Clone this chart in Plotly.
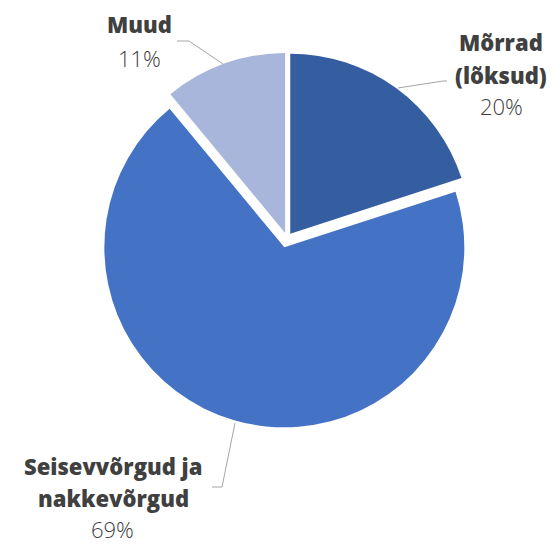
import plotly.graph_objects as go

labels = ["Mõrrad (lõksud)", "Seisevvõrgud ja nakkevõrgud", "Muud"]
values = [20, 69, 11]
colors = ["#355EA0", "#4472C4", "#A9B6DB"]
pulls = [0.031, 0.053, 0.031]

W, H = 558, 545


def px(x):
    return x / W


def py(y):
    return 1 - y / H


cx, cy, r = 287.0, 238.2, 180.0
half = r * (1 + max(pulls))

fig = go.Figure(
    go.Pie(
        labels=labels,
        values=values,
        sort=False,
        direction="clockwise",
        rotation=0,
        pull=pulls,
        marker=dict(colors=colors, line=dict(width=0)),
        textinfo="none",
        hoverinfo="label+percent",
        showlegend=False,
        domain=dict(
            x=[px(cx - half), px(cx + half)],
            y=[py(cy + half), py(cy - half)],
        ),
    )
)

# label text lines: (text, x center, y center, bold)
label_lines = [
    ("Muud", 139, 24, True),
    ("11%", 139, 58, False),
    ("Mõrrad", 501, 42, True),
    ("(lõksud)", 501, 75, True),
    ("20%", 501, 106, False),
    ("Seisevvõrgud ja", 113, 466, True),
    ("nakkevõrgud", 113, 498, True),
    ("69%", 112, 529, False),
]

annotations = []
for txt, x, y, bold in label_lines:
    annotations.append(
        dict(
            text=txt,
            x=px(x),
            y=py(y),
            xref="paper",
            yref="paper",
            xanchor="center",
            yanchor="middle",
            showarrow=False,
            borderpad=0,
            font=dict(
                family="Open Sans",
                size=22,
                color="#404040",
                weight=800 if bold else 300,
            ),
        )
    )

leaders = [
    [(177, 41), (189, 41), (223, 64)],
    [(398, 88), (443, 81), (447, 81)],
    [(235, 423), (222, 487), (212, 487)],
]
shapes = []
for pts in leaders:
    for (x0, y0), (x1, y1) in zip(pts[:-1], pts[1:]):
        shapes.append(
            dict(
                type="line",
                xref="paper",
                yref="paper",
                x0=px(x0),
                y0=py(y0),
                x1=px(x1),
                y1=py(y1),
                line=dict(color="#A6A6A6", width=1),
            )
        )

fig.update_layout(
    width=W,
    height=H,
    margin=dict(l=0, r=0, t=0, b=0),
    paper_bgcolor="white",
    plot_bgcolor="white",
    annotations=annotations,
    shapes=shapes,
)

fig.write_html(
    "out.html",
    config={"displayModeBar": False},
    post_script="document.body.style.margin='0';document.body.style.overflow='hidden';",
)
